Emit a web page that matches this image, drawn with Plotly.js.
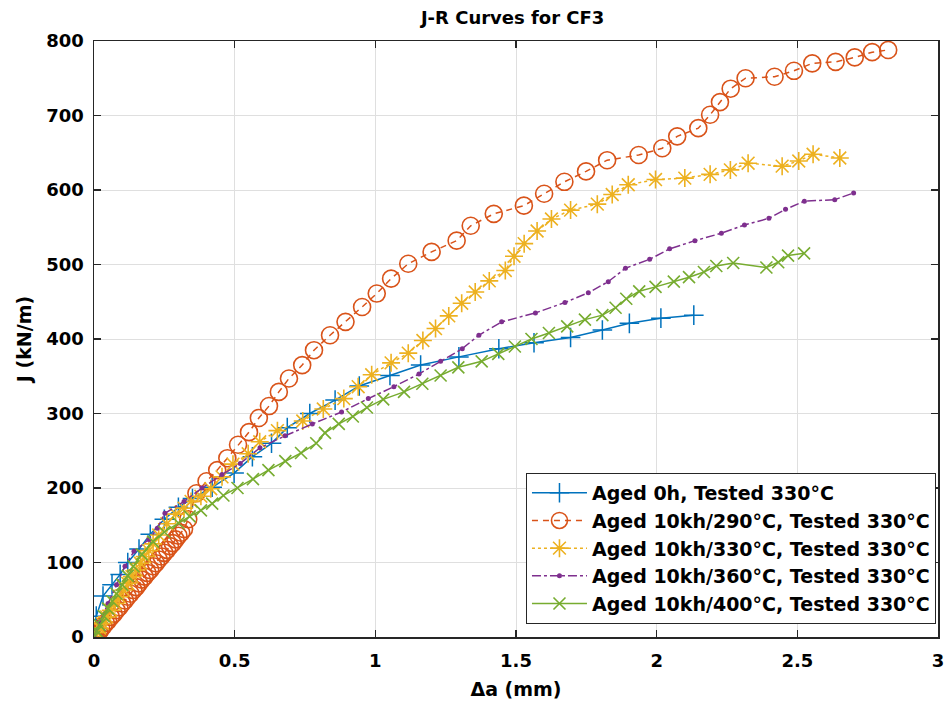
<!DOCTYPE html>
<html>
<head>
<meta charset="utf-8">
<script src="https://cdn.plot.ly/plotly-3.0.1.min.js"></script>
<style>html,body{margin:0;padding:0;background:#fff;}#chart{width:952px;height:713px;}</style>
</head>
<body>
<div id="chart"></div>
<script>
// Series names
const seriesNames = [
  "Aged 0h, Tested 330°C",
  "Aged 10kh/290°C, Tested 330°C",
  "Aged 10kh/330°C, Tested 330°C",
  "Aged 10kh/360°C, Tested 330°C",
  "Aged 10kh/400°C, Tested 330°C"
];

// Aged 0h
const aged0_x = [0, 0.008, 0.032, 0.064, 0.093, 0.12, 0.16, 0.2, 0.25, 0.3, 0.35, 0.42, 0.498, 0.563, 0.631, 0.687, 0.767, 0.857, 0.943, 1.052, 1.161, 1.297, 1.439, 1.564, 1.694, 1.807, 1.903, 2.015, 2.132];
const aged0_y = [0, 28, 55, 70, 84, 100, 118, 138, 158, 174, 186, 201, 220, 242, 260, 281, 300, 318, 337, 351, 365, 376, 387, 395, 402, 412, 421, 428, 432];

// Aged 10kh/290
const a290_x = [0, 0.005, 0.01, 0.018, 0.026, 0.034, 0.042, 0.05, 0.06, 0.07, 0.08, 0.09, 0.1, 0.11, 0.12, 0.13, 0.14, 0.15, 0.16, 0.17, 0.18, 0.19, 0.2, 0.21, 0.22, 0.23, 0.24, 0.25, 0.26, 0.27, 0.28, 0.29, 0.3, 0.31, 0.32, 0.335, 0.364, 0.4, 0.438, 0.474, 0.512, 0.551, 0.586, 0.622, 0.657, 0.693, 0.74, 0.782, 0.839, 0.894, 0.953, 1.005, 1.056, 1.117, 1.2, 1.289, 1.339, 1.421, 1.528, 1.6, 1.672, 1.749, 1.824, 1.936, 2.02, 2.073, 2.148, 2.19, 2.225, 2.263, 2.316, 2.419, 2.488, 2.553, 2.636, 2.704, 2.766, 2.823];
const a290_y = [0, 2, 4, 7, 11, 15, 19, 22, 27, 31, 36, 40, 45, 49, 54, 58, 63, 67, 72, 77, 81, 86, 90, 95, 99, 104, 108, 113, 117, 122, 126, 131, 136, 140, 145, 158, 193, 209, 224, 240, 258, 275, 294, 310, 329, 347, 365, 385, 405, 423, 443, 461, 481, 501, 517, 532, 552, 568, 579, 595, 611, 625, 640, 647, 656, 672, 683, 701, 718, 736, 750, 752, 760, 770, 772, 778, 785, 788];

// Aged 10kh/330
const a330_x = [0, 0.01, 0.02, 0.03, 0.045, 0.06, 0.075, 0.09, 0.105, 0.12, 0.135, 0.15, 0.165, 0.18, 0.195, 0.21, 0.23, 0.259, 0.29, 0.32, 0.345, 0.38, 0.415, 0.455, 0.494, 0.548, 0.589, 0.652, 0.742, 0.815, 0.888, 0.939, 0.987, 1.056, 1.117, 1.169, 1.214, 1.261, 1.307, 1.355, 1.405, 1.462, 1.493, 1.529, 1.575, 1.626, 1.694, 1.789, 1.842, 1.899, 1.996, 2.1, 2.19, 2.262, 2.325, 2.446, 2.505, 2.556, 2.651];
const a330_y = [0, 6, 12, 18, 27, 36, 45, 54, 63, 72, 81, 90, 99, 108, 116, 125, 137, 152, 165, 173, 182, 189, 199, 215, 232, 246, 262, 277, 290, 306, 320, 336, 352, 368, 381, 398, 414, 431, 448, 463, 478, 492, 511, 528, 545, 561, 573, 581, 594, 607, 614, 616, 621, 627, 636, 632, 639, 648, 643];

// Aged 10kh/360
const a360_x = [0, 0.02, 0.05, 0.08, 0.11, 0.142, 0.195, 0.225, 0.252, 0.32, 0.384, 0.455, 0.52, 0.59, 0.679, 0.776, 0.88, 0.975, 1.066, 1.155, 1.232, 1.309, 1.368, 1.449, 1.569, 1.674, 1.757, 1.828, 1.889, 1.975, 2.046, 2.136, 2.23, 2.312, 2.399, 2.458, 2.525, 2.633, 2.70];
const a360_y = [0, 20, 45, 70, 95, 115, 131, 146, 166, 182, 200, 218, 233, 254, 270, 286, 302, 320, 336, 353, 370, 387, 405, 423, 435, 449, 462, 477, 495, 507, 521, 532, 542, 553, 562, 574, 585, 587, 596];

// Aged 10kh/400
const a400_x = [0, 0.01, 0.02, 0.035, 0.05, 0.065, 0.08, 0.1, 0.12, 0.14, 0.17, 0.21, 0.25, 0.3, 0.34, 0.38, 0.42, 0.46, 0.51, 0.565, 0.62, 0.68, 0.736, 0.79, 0.821, 0.87, 0.92, 0.97, 1.028, 1.102, 1.167, 1.232, 1.295, 1.378, 1.437, 1.496, 1.555, 1.617, 1.682, 1.745, 1.807, 1.854, 1.892, 1.938, 1.996, 2.061, 2.115, 2.168, 2.212, 2.272, 2.39, 2.432, 2.467, 2.524];
const a400_y = [0, 8, 16, 28, 38, 48, 58, 70, 82, 95, 111, 128, 141, 153, 162, 170, 179, 190, 200, 212, 224, 236, 247, 260, 274, 286, 296, 308, 319, 329, 340, 351, 362, 370, 380, 390, 400, 408, 417, 426, 432, 442, 454, 464, 470, 477, 483, 490, 498, 502, 496, 503, 512, 515];

const xTicks = [0, 0.5, 1, 1.5, 2, 2.5, 3];
const xTickText = ["0", "0.5", "1", "1.5", "2", "2.5", "3"];
const yTicks = [0, 100, 200, 300, 400, 500, 600, 700, 800];

const traces = [
  {x: aged0_x, y: aged0_y, name: seriesNames[0], legendgroup: 'g0', mode: 'lines+markers',
   line: {color: '#0072BD', width: 1.5, dash: 'solid'},
   marker: {symbol: 'cross-thin-open', size: 14, color: '#0072BD', line: {color: '#0072BD', width: 1.5}}},
  {x: a290_x, y: a290_y, name: seriesNames[1], legendgroup: 'g1', mode: 'lines+markers',
   line: {color: '#D95319', width: 1.5, dash: '6px,5px'},
   marker: {symbol: 'circle-open', size: 17, color: '#D95319', line: {color: '#D95319', width: 1.6}}},
  {x: a330_x, y: a330_y, name: seriesNames[2], legendgroup: 'g2', mode: 'lines+markers',
   line: {color: '#EDB120', width: 1.5, dash: 'dot'},
   marker: {symbol: 'asterisk-open', size: 15, color: '#EDB120', line: {color: '#EDB120', width: 1.6}}},
  {x: a360_x, y: a360_y, name: seriesNames[3], legendgroup: 'g3', mode: 'lines+markers',
   line: {color: '#7E2F8E', width: 1.5, dash: 'dashdot'},
   marker: {symbol: 'circle', size: 5, color: '#7E2F8E'}},
  {x: a400_x, y: a400_y, name: seriesNames[4], legendgroup: 'g4', mode: 'lines+markers',
   line: {color: '#77AC30', width: 1.5, dash: 'solid'},
   marker: {symbol: 'x-thin-open', size: 12, color: '#77AC30', line: {color: '#77AC30', width: 1.6}}}
];

const fontFam = 'DejaVu Sans, Verdana, sans-serif';
const layout = {
  width: 952, height: 713,
  margin: {l: 94, r: 14, t: 41, b: 76, pad: 0},
  paper_bgcolor: '#ffffff', plot_bgcolor: '#ffffff',
  font: {family: fontFam, size: 18, color: '#000'},
  title: {text: '<b>J-R Curves for CF3</b>', font: {family: fontFam, size: 18, color: '#000'},
          x: 0.5385, xanchor: 'center', y: 0.975, yanchor: 'middle'},
  xaxis: {
    range: [0, 3], tickvals: xTicks, ticktext: xTickText, ticks: 'inside', ticklen: 7,
    tickcolor: '#262626', tickwidth: 1.3, showgrid: true, gridcolor: '#dfdfdf', gridwidth: 1,
    zeroline: false, showline: true, linecolor: '#262626', linewidth: 1.5, mirror: 'ticks',
    ticklabelstandoff: 7,
    tickfont: {family: fontFam, size: 18, color: '#000', weight: 'bold'},
    title: {text: '<b>Δa (mm)</b>', font: {family: fontFam, size: 19, color: '#000'}, standoff: 12}
  },
  yaxis: {
    range: [0, 800], tickvals: yTicks, ticks: 'inside', ticklen: 7,
    tickcolor: '#262626', tickwidth: 1.3, showgrid: true, gridcolor: '#dfdfdf', gridwidth: 1,
    zeroline: false, showline: true, linecolor: '#262626', linewidth: 1.5, mirror: 'ticks',
    ticklabelstandoff: 5,
    tickfont: {family: fontFam, size: 18, color: '#000', weight: 'bold'},
    title: {text: '<b>J (kN/m)</b>', font: {family: fontFam, size: 19, color: '#000'}, standoff: 9}
  },
  legend: {
    x: 0.9976, xanchor: 'right', y: 0.022, yanchor: 'bottom',
    bgcolor: '#ffffff', bordercolor: '#262626', borderwidth: 1,
    font: {family: fontFam, size: 19, color: '#000', weight: 'bold'},
    itemwidth: 55, tracegroupgap: 0
  },
  showlegend: true
};

Plotly.newPlot('chart', traces, layout, {staticPlot: true, displayModeBar: false});
</script>
</body>
</html>
